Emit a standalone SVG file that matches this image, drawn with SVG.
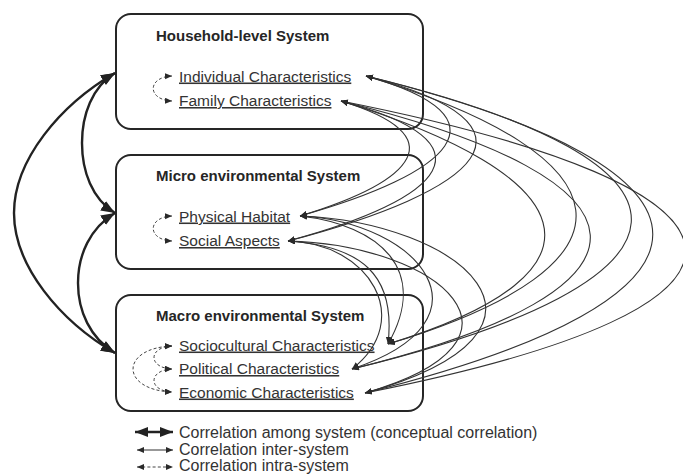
<svg xmlns="http://www.w3.org/2000/svg" width="683" height="474" viewBox="0 0 683 474">
  <style>
    .box { fill: #ffffff; stroke: #262626; stroke-width: 2; }
    .title { font-family: "Liberation Sans", Arial, sans-serif; font-weight: bold; font-size: 15px; fill: #262626; }
    .item { font-family: "Liberation Sans", Arial, sans-serif; font-size: 15.5px; fill: #333333; text-decoration: underline; }
    .legend { font-family: "Liberation Sans", Arial, sans-serif; font-size: 16px; fill: #333333; }
    .sys { fill: none; stroke: #222222; stroke-width: 2.4; marker-start: url(#bigHead); marker-end: url(#bigHead); }
    .inter { fill: none; stroke: #333333; stroke-width: 1.1; marker-start: url(#smallHead); marker-end: url(#smallHead); }
    .intra { fill: none; stroke: #444444; stroke-width: 1; stroke-dasharray: 3 2.2; marker-start: url(#smallHead); marker-end: url(#smallHead); }
  </style>
  <defs>
    <marker id="bigHead" markerUnits="userSpaceOnUse" markerWidth="15" markerHeight="12" refX="14" refY="5.5" orient="auto-start-reverse">
      <path d="M0,0 L14,5.5 L0,11 z" fill="#222222"/>
    </marker>
    <marker id="legendHead" markerUnits="userSpaceOnUse" markerWidth="14" markerHeight="11" refX="13" refY="5" orient="auto-start-reverse">
      <path d="M0,0 L13,5 L0,10 z" fill="#222222"/>
    </marker>
    <marker id="smallHead" markerUnits="userSpaceOnUse" markerWidth="8" markerHeight="7" refX="7" refY="3" orient="auto-start-reverse">
      <path d="M0,0 L7,3 L0,6 z" fill="#2a2a2a"/>
    </marker>
  </defs>

  <rect width="683" height="474" fill="#ffffff"/>

  <!-- Household-level system -->
  <g id="household">
    <rect class="box" x="116" y="14" width="307" height="115" rx="15"/>
    <text class="title" x="156" y="40.5">Household-level System</text>
    <text class="item" x="179" y="81.5">Individual Characteristics</text>
    <text class="item" x="179" y="106">Family Characteristics</text>
    <path class="intra" d="M172,76 C147,77 147,100 172,101"/>
  </g>

  <!-- Micro environmental system -->
  <g id="micro">
    <rect class="box" x="116" y="155" width="307" height="114" rx="15"/>
    <text class="title" x="156" y="180.5">Micro environmental System</text>
    <text class="item" x="179" y="221.5">Physical Habitat</text>
    <text class="item" x="179" y="246">Social Aspects</text>
    <path class="intra" d="M172,216 C147,217 147,240 172,241"/>
  </g>

  <!-- Macro environmental system -->
  <g id="macro">
    <rect class="box" x="116" y="295" width="307" height="116" rx="15"/>
    <text class="title" x="156" y="321">Macro environmental System</text>
    <text class="item" x="179" y="350.5">Sociocultural Characteristics</text>
    <text class="item" x="179" y="374">Political Characteristics</text>
    <text class="item" x="179" y="397.5">Economic Characteristics</text>
    <path class="intra" d="M172,346 C148,347 148,368 172,369"/>
    <path class="intra" d="M172,369 C148,370 148,391 172,392"/>
    <path class="intra" d="M172,346 C120,348 120,390 172,392"/>
  </g>

  <!-- connectors -->
  <g id="connectors">
    <!-- among systems -->
    <path class="sys" d="M115,73 C60,105 14,160 14,213 S60,321 115,353"/>
    <path class="sys" d="M115,73 C92,87 82,115 82,143 S92,199 115,213"/>
    <path class="sys" d="M115,213 C90,228 78,255 78,283 S90,338 115,353"/>

    <!-- household - micro -->
    <path class="inter" d="M341,101 C456,136 415,181 300,216"/>
    <path class="inter" d="M341,101 C498,143 445,199 288,241"/>
    <path class="inter" d="M366,76 C515,118 449,174 300,216"/>
    <path class="inter" d="M366,76 C557,126 479,191 288,241"/>

    <!-- household - macro -->
    <path class="inter" d="M366,76 C631,156 653,264 388,344"/>
    <path class="inter" d="M366,76 C729,164 715,281 352,369"/>
    <path class="inter" d="M366,76 C749,171 748,298 365,393"/>
    <path class="inter" d="M341,101 C579,174 626,271 388,344"/>
    <path class="inter" d="M341,101 C666,181 677,289 352,369"/>
    <path class="inter" d="M341,101 C784,189 808,305 365,393"/>

    <!-- micro - macro -->
    <path class="inter" d="M288,241 C362,246 396,275 388,344"/>
    <path class="inter" d="M300,216 C380,225 430,270 388,344"/>
    <path class="inter" d="M288,241 C370,243 415,320 352,369"/>
    <path class="inter" d="M300,216 C420,222 500,320 352,369"/>
    <path class="inter" d="M288,241 C440,245 550,340 365,393"/>
    <path class="inter" d="M300,216 C460,222 590,330 365,393"/>
  </g>

  <!-- legend -->
  <g id="legend">
    <line x1="135" y1="432" x2="173" y2="432" stroke="#222222" stroke-width="2.4" marker-start="url(#legendHead)" marker-end="url(#legendHead)"/>
    <line class="inter" x1="137" y1="450" x2="173" y2="450"/>
    <line class="intra" x1="137" y1="467" x2="173" y2="467"/>
    <text class="legend" x="179" y="437.5">Correlation among system (conceptual correlation)</text>
    <text class="legend" x="179" y="454.5">Correlation inter-system</text>
    <text class="legend" x="179" y="471">Correlation intra-system</text>
  </g>
</svg>
